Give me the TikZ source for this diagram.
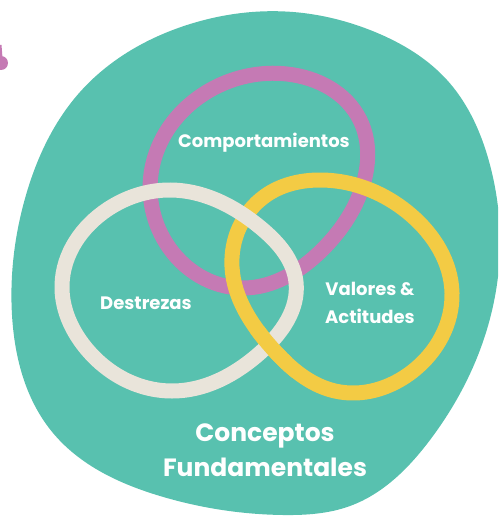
\documentclass[tikz,border=0pt]{standalone}
\usepackage{fontspec}
\setmainfont{Poppins}
\usepackage{tikz}
\usetikzlibrary{positioning,hobby}
\definecolor{teal}{HTML}{58C1AF}
\definecolor{ringpink}{HTML}{C57AB4}
\definecolor{ringyellow}{HTML}{F3CB44}
\definecolor{ringcream}{HTML}{E9E4DA}
\tikzset{ringline/.style={line width=15pt,use Hobby shortcut,closed=true},
    blob/.style={fill=teal,use Hobby shortcut,closed=true},
    smalllabel/.style={text=white,font=\bfseries\fontsize{18}{28}\selectfont,align=center,inner sep=0},
    biglabel/.style={text=white,font=\bfseries\fontsize{25}{35}\selectfont,align=center,inner sep=0}
}
\newcommand{\pinkpath}{(287,74) .. (360,120) .. (362,188) .. (322,250) .. (243,288) .. (166,243) .. (152,168) .. (212,89)}
\newcommand{\yellowpath}{(320,180) .. (411,215) .. (452,293) .. (413,371) .. (335,391) .. (272,348) .. (232,267) .. (265,196)}
\newcommand{\creampath}{(170,190) .. (261,228) .. (296,282) .. (261,352) .. (172,391) .. (85,347) .. (62,285) .. (108,209)}
\begin{document}
\begin{tikzpicture}[x=1pt,y=-1pt]
\useasboundingbox (0,0) rectangle (498,516);
\clip (0,0) rectangle (498,516);

% background blob
\path [blob] (80,92) .. (187,25) .. (293,12) .. (375,32) .. (447,80) .. (490,165) .. (500,248) .. (480,350) .. (430,440) .. (350,506) .. (283,515) .. (160,496) .. (53,433) .. (12,315) .. (26,195);

% small pink mark
\fill [ringpink] (1,63) circle (7);
\draw [ringpink,line width=3pt] (0,45) -- (1,58);

% rings
\draw [ringline,ringpink] \pinkpath;
\draw [ringline,ringyellow] \yellowpath;
\draw [ringline,ringcream] \creampath;
\begin{scope}
    \clip (250,326) rectangle (292,380);
    \draw [ringline,ringyellow] \yellowpath;
\end{scope}

% labels
\node (comp) [smalllabel] at (264,143) {Comportamientos};
\node (destr) [smalllabel] at (146,303) {Destrezas};
\node (valores) [smalllabel] at (370,303) {Valores \&\\Actitudes};
\node (conceptos) [biglabel] at (265,450) {Conceptos\\Fundamentales};

\end{tikzpicture}
\end{document}
